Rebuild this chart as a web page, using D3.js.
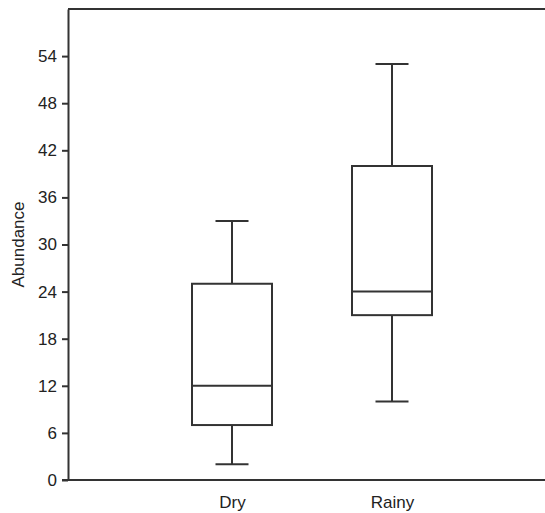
<!DOCTYPE html>
<html>
<head>
<meta charset="utf-8">
<script src="https://cdn.jsdelivr.net/npm/d3@7"></script>
<style>
  body { margin: 0; background: #fff; }
  text { font-family: "Liberation Sans", Arial, sans-serif; fill: #222; }
</style>
</head>
<body>
<div id="chart"></div>
<script>
const categories = ["Dry", "Rainy"];
const mins    = [2, 10];
const q1s     = [7, 21];
const medians = [12, 24];
const q3s     = [25, 40];
const maxs    = [33, 53];
const yTicks  = [0, 6, 12, 18, 24, 30, 36, 42, 48, 54];

const width = 545, height = 513;
const margin = { top: 9, right: 0, bottom: 33, left: 68 };

const svg = d3.select("#chart").append("svg")
    .attr("width", width)
    .attr("height", height);

const y = d3.scaleLinear()
    .domain([0, 60])
    .range([height - margin.bottom, margin.top]);

const x = d3.scalePoint()
    .domain(categories)
    .range([72, 552])
    .padding(1);

const stroke = "#333";
const fontSize = "17px";

// frame: top line + left axis + bottom axis
svg.append("line")
    .attr("x1", margin.left).attr("x2", width)
    .attr("y1", y(60)).attr("y2", y(60))
    .attr("stroke", stroke).attr("stroke-width", 2);

const yAxis = svg.append("g")
    .attr("transform", `translate(${margin.left},0)`)
    .call(d3.axisLeft(y).tickValues(yTicks).tickSize(6).tickPadding(5).tickSizeOuter(0));
yAxis.select(".domain").attr("stroke", stroke).attr("stroke-width", 2);
yAxis.selectAll(".tick line").attr("stroke", stroke).attr("stroke-width", 2);
yAxis.selectAll("text").style("font-size", fontSize).attr("fill", "#222");

const xAxis = svg.append("g")
    .attr("transform", `translate(0,${y(0)})`)
    .call(d3.axisBottom(x).tickSize(0).tickPadding(16).tickSizeOuter(0));
xAxis.select(".domain").remove();
xAxis.selectAll("text").style("font-size", fontSize).attr("fill", "#222");
svg.append("line")
    .attr("x1", margin.left - 6).attr("x2", width)
    .attr("y1", y(0)).attr("y2", y(0))
    .attr("stroke", stroke).attr("stroke-width", 2);

svg.append("text")
    .attr("transform", `translate(24,${(y(0) + y(60)) / 2}) rotate(-90)`)
    .attr("text-anchor", "middle")
    .style("font-size", fontSize)
    .text("Abundance");

// boxes
const boxW = 80, capW = 33;
const boxes = svg.append("g")
    .attr("fill", "none")
    .attr("stroke", stroke)
    .attr("stroke-width", 2)
    .selectAll("g")
    .data(categories)
    .enter().append("g");

boxes.append("line")
    .attr("x1", d => x(d)).attr("x2", d => x(d))
    .attr("y1", (d, i) => y(maxs[i])).attr("y2", (d, i) => y(q3s[i]));
boxes.append("line")
    .attr("x1", d => x(d)).attr("x2", d => x(d))
    .attr("y1", (d, i) => y(q1s[i])).attr("y2", (d, i) => y(mins[i]));
boxes.append("line")
    .attr("x1", d => x(d) - capW / 2).attr("x2", d => x(d) + capW / 2)
    .attr("y1", (d, i) => y(maxs[i])).attr("y2", (d, i) => y(maxs[i]));
boxes.append("line")
    .attr("x1", d => x(d) - capW / 2).attr("x2", d => x(d) + capW / 2)
    .attr("y1", (d, i) => y(mins[i])).attr("y2", (d, i) => y(mins[i]));
boxes.append("rect")
    .attr("x", d => x(d) - boxW / 2)
    .attr("width", boxW)
    .attr("y", (d, i) => y(q3s[i]))
    .attr("height", (d, i) => y(q1s[i]) - y(q3s[i]));
boxes.append("line")
    .attr("x1", d => x(d) - boxW / 2).attr("x2", d => x(d) + boxW / 2)
    .attr("y1", (d, i) => y(medians[i])).attr("y2", (d, i) => y(medians[i]));
</script>
</body>
</html>
